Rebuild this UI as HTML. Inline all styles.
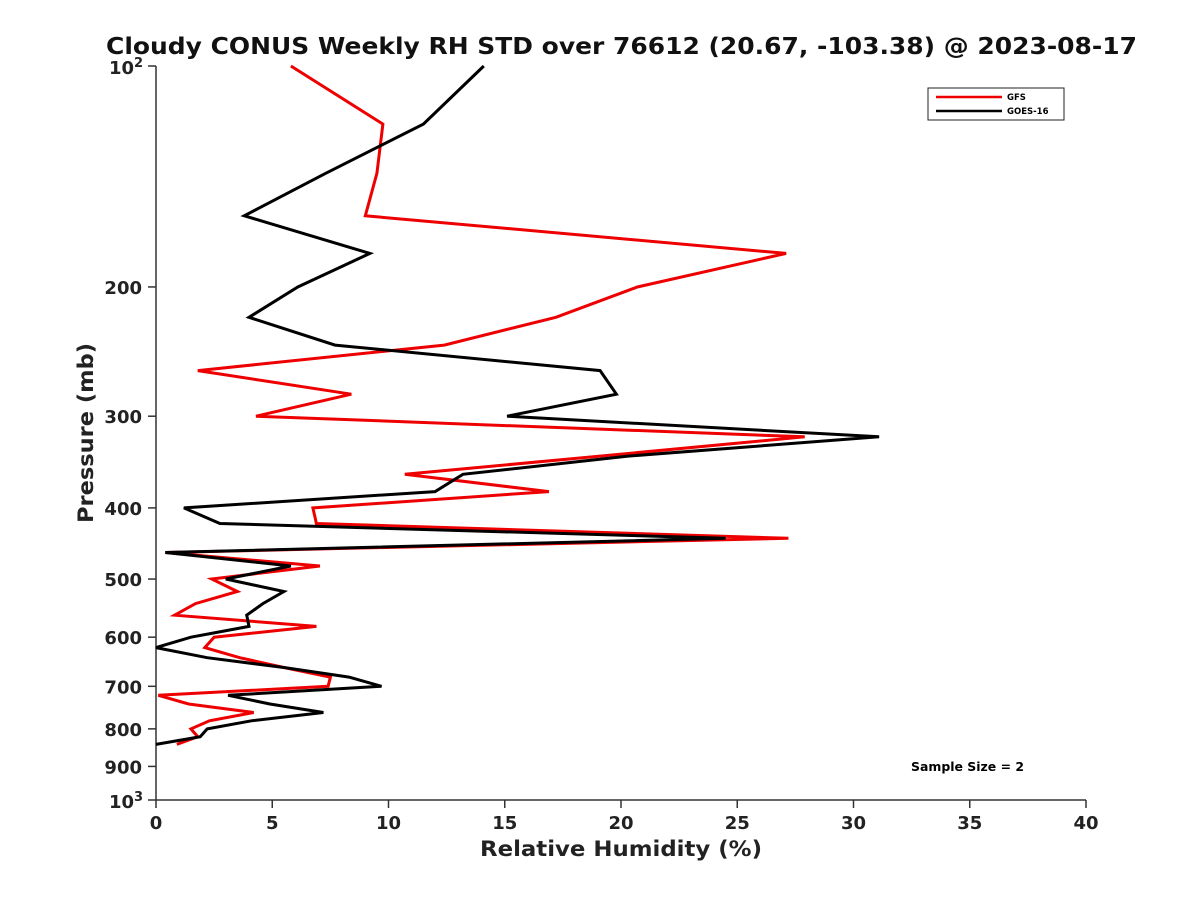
<!DOCTYPE html>
<html><head><meta charset="utf-8"><style>
html,body{margin:0;padding:0;background:#fff;}
svg{display:block;font-family:"DejaVu Sans","Liberation Sans",sans-serif;}
</style></head><body>
<svg id="chart" width="1200" height="900" viewBox="0 0 1200 900">
<rect width="1200" height="900" fill="#fff"/>
<text x="106" y="54" textLength="1031" lengthAdjust="spacingAndGlyphs" font-size="23" font-weight="bold" fill="#111">Cloudy CONUS Weekly RH STD over 76612 (20.67, -103.38) @ 2023-08-17</text>
<g id="axes"></g>
<g id="series"></g>
<g>
<rect x="928" y="88" width="136" height="32" fill="#fff" stroke="#222" stroke-width="1"/>
<line x1="936" y1="97" x2="1002" y2="97" stroke="#e00" stroke-width="2.5"/>
<text x="1007" y="100" font-size="8.5" font-weight="bold">GFS</text>
<line x1="936" y1="111" x2="1002" y2="111" stroke="#000" stroke-width="2.5"/>
<text x="1007" y="114" font-size="8.5" font-weight="bold">GOES-16</text>
</g>
<text x="911" y="771" textLength="113" lengthAdjust="spacingAndGlyphs" font-size="12" font-weight="bold">Sample Size = 2</text>
<text x="480" y="856" textLength="282" lengthAdjust="spacingAndGlyphs" font-size="21" font-weight="bold" fill="#222">Relative Humidity (%)</text>
<text transform="translate(93,523) rotate(-90)" textLength="180" lengthAdjust="spacingAndGlyphs" font-size="21" font-weight="bold" fill="#222">Pressure (mb)</text>
</svg>
<script>
const pressures=[100,120,140,160,180,200,220,240,260,280,300,320,340,360,380,400,420,440,460,480,500,520,540,560,580,600,620,640,660,680,700,720,740,760,780,800,820,840];
const gfsValues=[5.8,9.76,9.5,9.0,27.1,20.7,17.2,12.4,1.8,8.4,4.3,27.9,19.1,10.7,16.9,6.75,6.9,27.2,0.4,7.05,2.4,3.5,1.7,0.8,6.9,2.5,2.1,3.6,5.5,7.5,7.4,0.1,1.4,4.2,2.3,1.5,1.8,0.9];
const goesValues=[14.1,11.5,7.3,3.8,9.2,6.1,4.0,7.7,19.1,19.8,15.1,31.1,20.3,13.2,12.0,1.2,2.75,24.5,0.4,5.8,3.0,5.5,4.6,3.9,4.0,1.5,0.0,2.2,5.5,8.3,9.7,3.1,4.9,7.2,4.1,2.2,1.9,0.0];
const xTicks=[0,5,10,15,20,25,30,35,40];
const yTicks=[200,300,400,500,600,700,800,900];
const NS='http://www.w3.org/2000/svg';
const X0=156,X1=1086,Y0=66,Y1=800;
function sx(v){return X0+(v/40)*(X1-X0);}
function sy(p){return Y0+Math.log10(p/100)*(Y1-Y0);}
function mk(tag,attrs,parent){const e=document.createElementNS(NS,tag);for(const k in attrs)e.setAttribute(k,attrs[k]);parent.appendChild(e);return e;}
const ax=document.getElementById('axes');
let l=mk('line',{x1:X0,y1:Y0,x2:X0,y2:Y1,stroke:'#333','stroke-width':1.5},ax);


l=mk('line',{x1:X0,y1:Y1,x2:X1,y2:Y1,stroke:'#333','stroke-width':1.5},ax);


xTicks.forEach(v=>{const x=sx(v);
 const t=mk('line',{x1:x,y1:Y1,x2:x,y2:Y1+8,stroke:'#333','stroke-width':1.5},ax);
 
 
 const tx=mk('text',{x:x,y:Y1+29,'text-anchor':'middle','font-size':18,'font-weight':'bold',fill:'#222'},ax);
 tx.textContent=v;
 
 
});
[100,1000].concat(yTicks).forEach(p=>{const y=sy(p);
 const t=mk('line',{x1:X0-8,y1:y,x2:X0,y2:y,stroke:'#333','stroke-width':1.5},ax);
 
 
});
yTicks.forEach(p=>{const y=sy(p);
 const tx=mk('text',{x:X0-14,y:y+7,'text-anchor':'end','font-size':18,'font-weight':'bold',fill:'#222'},ax);
 tx.textContent=p;
 
 
});
[[100,'2'],[1000,'3']].forEach(d=>{const y=sy(d[0]);
 const tx=mk('text',{x:X0-22,y:y+8,'text-anchor':'end','font-size':18,'font-weight':'bold',fill:'#222'},ax);
 tx.textContent='10';
 
 
 const sp=mk('text',{x:X0-13,y:y+1,'text-anchor':'end','font-size':13,'font-weight':'bold',fill:'#222'},ax);
 sp.textContent=d[1];
 
 
});
const sg=document.getElementById('series');
function draw(vals,color,name){
 const pts=vals.map((v,i)=>sx(v).toFixed(1)+','+sy(pressures[i]).toFixed(1)).join(' ');
 const pl=mk('polyline',{points:pts,fill:'none',stroke:color,'stroke-width':3,'stroke-linejoin':'miter'},sg);
 
 
}
draw(gfsValues,'#e00','gfs-line');
draw(goesValues,'#000','goes16-line');
</script>
</body></html>
